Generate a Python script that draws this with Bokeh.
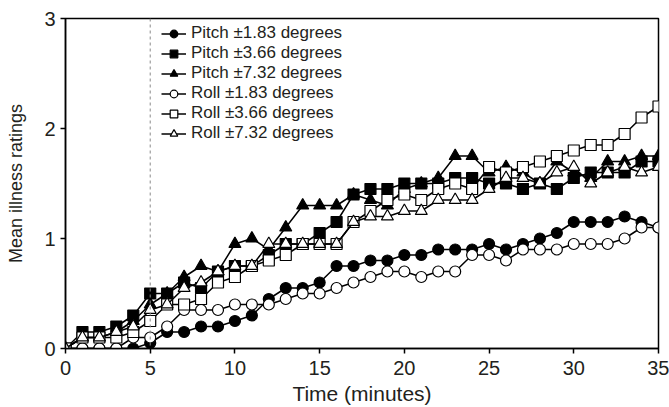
from bokeh.plotting import figure
from bokeh.models import Range1d, Span, Legend, LegendItem, FixedTicker
from bokeh.embed import file_html
from bokeh.resources import INLINE

time_min = list(range(0, 36))

pitch_183 = [0, 0, 0, 0, 0, 0.05, 0.15, 0.15, 0.2, 0.2, 0.25, 0.3, 0.45, 0.55, 0.55, 0.6, 0.75, 0.75,
             0.8, 0.8, 0.85, 0.85, 0.9, 0.9, 0.9, 0.95, 0.9, 0.95, 1.0, 1.05, 1.15, 1.15, 1.15, 1.2, 1.15, 1.1]
pitch_366 = [0, 0.15, 0.15, 0.2, 0.3, 0.5, 0.5, 0.6, 0.55, 0.7, 0.75, 0.75, 0.85, 0.95, 0.95, 1.05, 1.15, 1.4,
             1.45, 1.45, 1.5, 1.5, 1.5, 1.55, 1.55, 1.5, 1.5, 1.45, 1.5, 1.45, 1.55, 1.6, 1.6, 1.6, 1.7, 1.7]
pitch_732 = [0, 0.1, 0.1, 0.15, 0.25, 0.4, 0.5, 0.65, 0.75, 0.7, 0.95, 1.0, 0.9, 1.1, 1.3, 1.3, 1.3, 1.4,
             1.35, 1.3, 1.45, 1.5, 1.55, 1.75, 1.75, 1.6, 1.65, 1.6, 1.5, 1.7, 1.6, 1.55, 1.7, 1.7, 1.75, 1.75]
roll_183 = [0, 0, 0, 0, 0.1, 0.1, 0.2, 0.35, 0.35, 0.35, 0.4, 0.4, 0.4, 0.45, 0.5, 0.5, 0.55, 0.6,
            0.65, 0.7, 0.7, 0.65, 0.7, 0.7, 0.85, 0.85, 0.8, 0.9, 0.9, 0.9, 0.95, 0.95, 0.95, 1.0, 1.1, 1.1]
roll_366 = [0, 0.1, 0.1, 0.1, 0.15, 0.25, 0.4, 0.4, 0.45, 0.6, 0.65, 0.75, 0.8, 0.85, 0.95, 0.95, 0.95, 1.15,
            1.25, 1.35, 1.4, 1.35, 1.45, 1.5, 1.45, 1.65, 1.6, 1.65, 1.7, 1.75, 1.8, 1.85, 1.85, 1.95, 2.1, 2.2]
roll_732 = [0, 0.1, 0.1, 0.15, 0.2, 0.35, 0.4, 0.55, 0.6, 0.7, 0.75, 0.75, 0.95, 0.95, 0.95, 0.95, 0.95, 1.15,
            1.2, 1.2, 1.25, 1.25, 1.35, 1.35, 1.35, 1.45, 1.55, 1.55, 1.5, 1.6, 1.65, 1.5, 1.6, 1.65, 1.6, 1.65]

labels = ["Pitch \u00b11.83 degrees", "Pitch \u00b13.66 degrees", "Pitch \u00b17.32 degrees",
          "Roll \u00b11.83 degrees", "Roll \u00b13.66 degrees", "Roll \u00b17.32 degrees"]
x_ticks = [0, 5, 10, 15, 20, 25, 30, 35]
y_ticks = [0, 1, 2, 3]
onset_minute = 5

FONT = "'Liberation Sans', Arial, sans-serif"
TXT = "#231f20"

p = figure(width=669, height=407, output_backend="svg", toolbar_location=None,
           x_range=Range1d(0, 35), y_range=Range1d(0, 3),
           min_border_left=65, min_border_top=18, min_border_right=11, min_border_bottom=59)
p.background_fill_color = "white"
p.border_fill_color = "white"
p.outline_line_color = "black"
p.outline_line_width = 1.5
p.xgrid.visible = False
p.ygrid.visible = False

for ax in (p.xaxis[0], p.yaxis[0]):
    ax.axis_line_color = "black"
    ax.axis_line_width = 1.5
    ax.major_tick_line_color = "black"
    ax.major_tick_line_width = 1.5
    ax.major_tick_out = 5
    ax.major_tick_in = 0
    ax.minor_tick_line_color = None
    ax.major_label_text_font = FONT
    ax.major_label_text_font_size = "20px"
    ax.major_label_text_color = TXT
    ax.axis_label_text_font = FONT
    ax.axis_label_text_font_style = "normal"
    ax.axis_label_text_color = TXT

p.xaxis.ticker = FixedTicker(ticks=x_ticks)
p.yaxis.ticker = FixedTicker(ticks=y_ticks)
p.xaxis.axis_label = "Time (minutes)"
p.yaxis.axis_label = "Mean illness ratings"
p.xaxis.axis_label_text_font_size = "21px"
p.yaxis.axis_label_text_font_size = "18px"
p.xaxis.major_label_standoff = 7
p.xaxis.axis_label_standoff = 4
p.yaxis.major_label_standoff = 5
p.yaxis.axis_label_standoff = 15

p.add_layout(Span(location=onset_minute, dimension="height", line_color="#8a8a8a",
                  line_dash="3 3", line_width=1))

series = [pitch_183, pitch_366, pitch_732, roll_183, roll_366, roll_732]
markers = ["circle", "square", "triangle", "circle", "square", "triangle"]
fills = ["black", "black", "black", "white", "white", "white"]
sizes = [11, 11, 12, 11, 11, 12]

items = []
for ys, mk, fc, sz, lab in zip(series, markers, fills, sizes, labels):
    r_line = p.line(time_min, ys, line_color="black", line_width=1.5)
    r_pt = p.scatter(time_min, ys, marker=mk, size=sz, fill_color=fc,
                     line_color="black", line_width=1.2)
    items.append(LegendItem(label=lab, renderers=[r_line, r_pt]))

legend = Legend(items=items, location=(96, 205))
legend.background_fill_alpha = 0
legend.border_line_color = None
legend.label_text_font = FONT
legend.label_text_font_size = "17px"
legend.label_text_color = TXT
legend.glyph_width = 25
legend.glyph_height = 19
legend.label_height = 19
legend.spacing = 0
legend.padding = 2
legend.margin = 0
legend.label_standoff = 5
p.add_layout(legend, "center")

open("out.html", "w").write(file_html(p, INLINE))
